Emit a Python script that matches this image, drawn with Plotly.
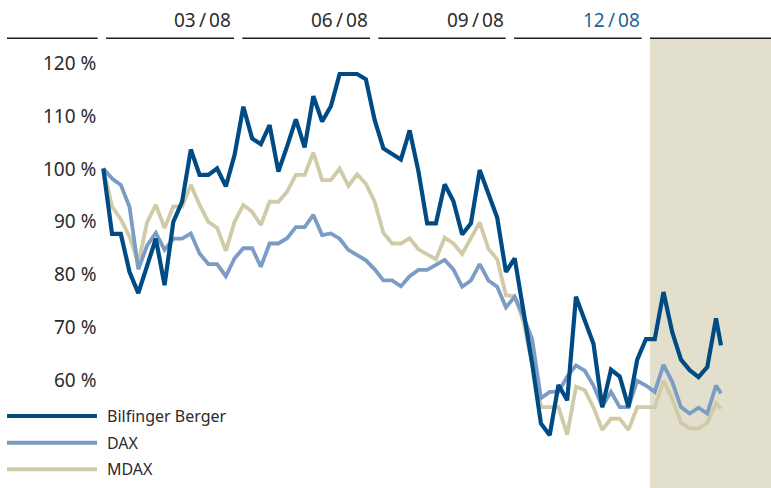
import plotly.graph_objects as go

# ---- data -------------------------------------------------------------
periods = list(range(71)) + [70.57]

bilfinger = [100, 87.6, 87.6, 80.4, 76.4, 81.5, 86.7, 77.9, 89.9, 93.7,
             103.6, 98.8, 98.8, 100, 96.6, 102.6, 111.7, 105.7, 104.6, 108.2,
             99.4, 104.2, 109.3, 104, 113.7, 108.9, 111.8, 117.9, 117.9, 117.9,
             116.9, 109.2, 103.8, 102.8, 101.7, 107.2, 99.5, 89.6, 89.6, 97,
             93.8, 87.5, 89.6, 99.7, 95, 90.7, 80.4, 83, 73, 63,
             51.7, 49.5, 59, 56.1, 75.7, 71.3, 66.8, 54.8, 61.9, 60.6,
             54.8, 63.8, 67.7, 67.7, 76.6, 69, 63.8, 61.8, 60.5, 62.4,
             71.6, 66.5]

dax = [100, 98.1, 96.9, 92.7, 80.9, 85.4, 87.8, 84.6, 86.7, 86.7,
       87.7, 83.9, 81.9, 81.9, 79.6, 83, 84.9, 84.9, 81.4, 85.8,
       85.8, 86.8, 88.9, 88.9, 91.2, 87.4, 87.7, 86.7, 84.6, 83.5,
       82.6, 80.9, 78.8, 78.8, 77.7, 79.6, 80.8, 80.8, 81.8, 82.7,
       80.9, 77.6, 78.8, 81.9, 78.8, 77.6, 73.7, 75.7, 72, 67.6,
       56.5, 57.7, 57.7, 60.6, 62.7, 61.7, 58.9, 54.9, 57.7, 54.8,
       54.8, 59.8, 58.9, 57.7, 62.8, 59.6, 54.8, 53.6, 54.7, 53.6,
       58.9, 57.4]

mdax = [100, 92.8, 90.4, 87.1, 82, 89.8, 93.1, 88.7, 92.8, 92.8,
        96.9, 93.1, 89.9, 88.8, 84.4, 89.9, 93.1, 91.8, 89.3, 93.7,
        93.7, 95.6, 98.8, 98.8, 103, 97.8, 97.8, 100, 96.7, 98.9,
        97.1, 93.7, 87.8, 85.8, 85.8, 86.8, 84.7, 83.7, 82.8, 86.9,
        85.8, 83.8, 86.7, 89.8, 84.8, 82.8, 76, 75.8, 71, 63,
        54.8, 54.8, 54.8, 49.6, 58.7, 58, 54.8, 50.5, 52.6, 52.6,
        50.5, 54.8, 54.8, 54.8, 59.8, 56.4, 51.8, 50.8, 50.8, 51.8,
        55.6, 54.5]

series_names = ["Bilfinger Berger", "DAX", "MDAX"]
y_ticks = [120, 110, 100, 90, 80, 70, 60]
quarter_labels = ["03/08", "06/08", "09/08", "12/08"]

# ---- style ------------------------------------------------------------
W, H = 771, 488
C_BIL = "#004b84"
C_DAX = "#7a9cc5"
C_MDAX = "#cfcaa8"
C_SHADE = "#e2dfcc"
C_TEXT = "#2b2b2b"
C_HIGHLIGHT = "#1d6498"
FONT = "Noto Sans"

fig = go.Figure()
for name, vals, col, w in [("MDAX", mdax, C_MDAX, 3.8),
                           ("DAX", dax, C_DAX, 3.8),
                           ("Bilfinger Berger", bilfinger, C_BIL, 4.2)]:
    fig.add_trace(go.Scatter(x=periods, y=vals, mode="lines", name=name,
                             line=dict(color=col, width=w), showlegend=False,
                             hoverinfo="skip"))

def px(xp):
    return xp / W

def py(yp):
    return 1 - yp / H

shapes = []
shapes.append(dict(type="rect", xref="paper", yref="paper", x0=px(650), x1=1,
                   y0=0, y1=py(38.3), fillcolor=C_SHADE, line_width=0,
                   layer="below"))
for a, b in [(7, 97.7), (106, 234), (242.3, 370), (378.3, 505.7), (514, 641.7), (650, 771)]:
    shapes.append(dict(type="line", xref="paper", yref="paper", x0=px(a), x1=px(b),
                       y0=py(38.3), y1=py(38.3), line=dict(color="#1e1e1e", width=1.6)))

annotations = []
for lab, xe in zip(quarter_labels, [233.5, 369.5, 505.5, 641.5]):
    col = C_HIGHLIGHT if lab == "12/08" else C_TEXT
    annotations.append(dict(text=lab.replace("/", "\u2009/\u2009"), xref="paper", yref="paper",
                            x=px(xe), y=py(20), xanchor="right", yanchor="middle",
                            showarrow=False, font=dict(family=FONT, size=19, color=col)))
for t in y_ticks:
    annotations.append(dict(text=f"{t} %", xref="paper", yref="y", x=px(97.5), y=t,
                            xanchor="right", yanchor="middle", showarrow=False,
                            font=dict(family=FONT, size=19, color=C_TEXT)))
for name, col, yl in zip(series_names, [C_BIL, C_DAX, C_MDAX], [416, 442.7, 469.3]):
    shapes.append(dict(type="line", xref="paper", yref="paper", x0=px(7), x1=px(97),
                       y0=py(yl), y1=py(yl), line=dict(color=col, width=4)))
    annotations.append(dict(text=name, xref="paper", yref="paper", x=px(105), y=py(yl),
                            xanchor="left", yanchor="middle", showarrow=False,
                            font=dict(family=FONT, size=16, color=C_TEXT)))

x0_px, step_px = 103.3, 8.753
y100_px, unit_px = 168.5, 5.28
fig.update_layout(
    width=W, height=H, margin=dict(l=0, r=0, t=0, b=0),
    paper_bgcolor="white", plot_bgcolor="rgba(0,0,0,0)",
    xaxis=dict(range=[-x0_px / step_px, (W - x0_px) / step_px],
               visible=False, fixedrange=True),
    yaxis=dict(range=[100 - (H - y100_px) / unit_px, 100 + y100_px / unit_px],
               visible=False, fixedrange=True),
    shapes=shapes, annotations=annotations, showlegend=False,
)
fig.write_html("out.html", config={"displayModeBar": False},
               post_script="document.body.style.margin='0';document.body.style.overflow='hidden';")
